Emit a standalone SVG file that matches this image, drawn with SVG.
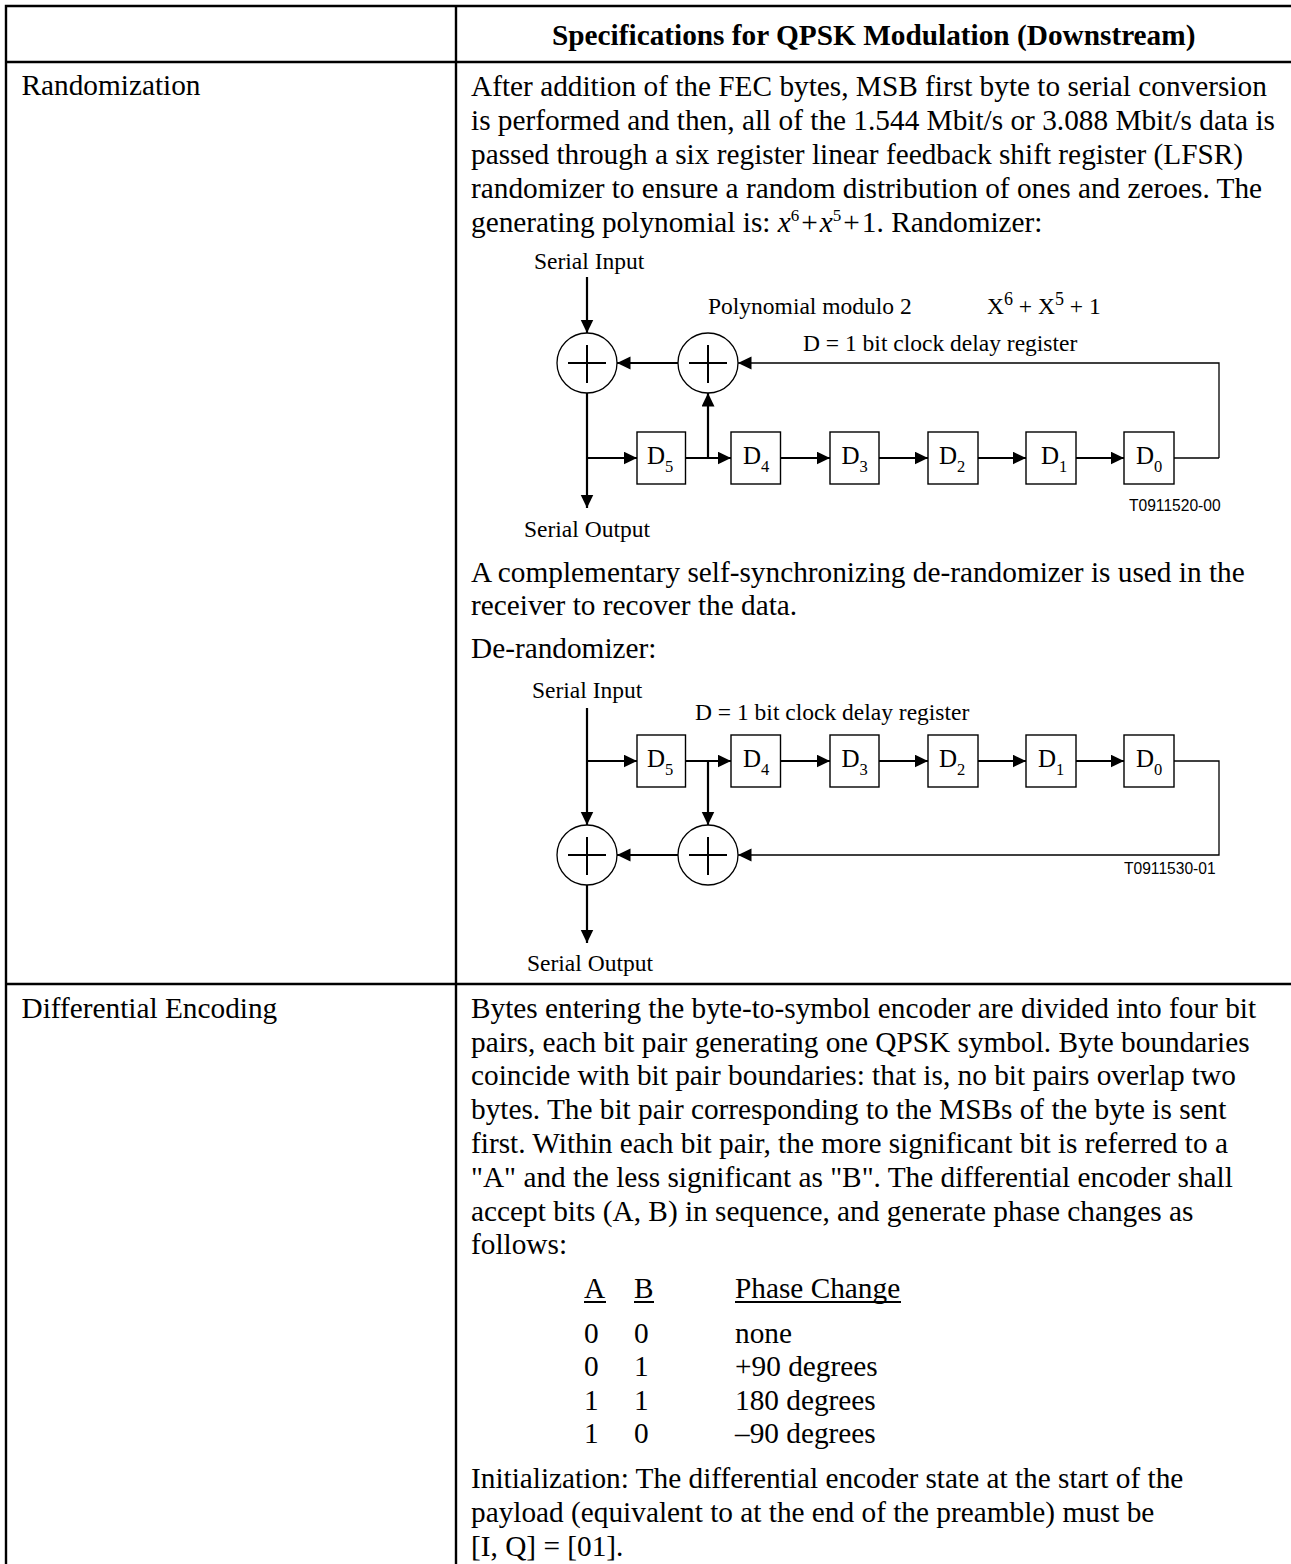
<svg xmlns="http://www.w3.org/2000/svg" width="1291" height="1564" viewBox="0 0 1291 1564">
<style>
text{font-family:"Liberation Serif","Times New Roman",serif;fill:#000}
.b{font-size:29.3px}
.h{font-size:29.3px;font-weight:bold}
.d{font-size:23.5px}
.s{font-family:"Liberation Sans",Arial,sans-serif;font-size:15.6px}
.g{font-size:25px}
.sub{font-size:16.5px}
.sup{font-size:17px}
.sx{font-size:18px}
.t{fill:none;stroke:#000;stroke-width:2.4}
.l{fill:none;stroke:#000;stroke-width:2}
.n{fill:none;stroke:#000;stroke-width:1.3}
.a{fill:none;stroke:#000;stroke-width:2.2;marker-end:url(#ar)}
.a2{fill:none;stroke:#000;stroke-width:1.3;marker-end:url(#ar)}
.box{fill:#fff;stroke:#000;stroke-width:1.4}
.cir{fill:#fff;stroke:#000;stroke-width:1.3}
</style>
<defs>
<marker id="ar" markerUnits="userSpaceOnUse" markerWidth="15" markerHeight="14" refX="13.5" refY="6.5" orient="auto"><path d="M0 0L13.5 6.5L0 13Z" fill="#000"/></marker>
</defs>
<rect width="1291" height="1564" fill="#fff"/>
<g id="table">
<path class="t" d="M6 1564V6H1291M456 6V1564M6 62H1291M6 984H1291"/>
</g>
<g id="text">
<text class="h" x="552" y="44.5">Specifications for QPSK Modulation (Downstream)</text>
<text class="b" x="21.5" y="95">Randomization</text>
<text class="b" x="21.5" y="1018">Differential Encoding</text>
<text class="b" x="471" y="95.5">After addition of the FEC bytes, MSB first byte to serial conversion</text>
<text class="b" x="471" y="129.5">is performed and then, all of the 1.544 Mbit/s or 3.088 Mbit/s data is</text>
<text class="b" x="471" y="163.5">passed through a six register linear feedback shift register (LFSR)</text>
<text class="b" x="471" y="197.5">randomizer to ensure a random distribution of ones and zeroes. The</text>
<text class="b" x="471" y="231.5">generating polynomial is: <tspan font-style="italic">x</tspan><tspan class="sup" dy="-11">6</tspan><tspan dy="11" dx="2">+</tspan><tspan dx="2" font-style="italic">x</tspan><tspan class="sup" dy="-11">5</tspan><tspan dy="11" dx="2">+</tspan><tspan dx="2">1. Randomizer:</tspan></text>
<text class="b" x="471" y="582">A complementary self-synchronizing de-randomizer is used in the</text>
<text class="b" x="471" y="615">receiver to recover the data.</text>
<text class="b" x="471" y="658">De-randomizer:</text>
<text class="b" x="471" y="1018">Bytes entering the byte-to-symbol encoder are divided into four bit</text>
<text class="b" x="471" y="1052">pairs, each bit pair generating one QPSK symbol. Byte boundaries</text>
<text class="b" x="471" y="1085">coincide with bit pair boundaries: that is, no bit pairs overlap two</text>
<text class="b" x="471" y="1119">bytes. The bit pair corresponding to the MSBs of the byte is sent</text>
<text class="b" x="471" y="1153">first. Within each bit pair, the more significant bit is referred to a</text>
<text class="b" x="471" y="1187">"A" and the less significant as "B". The differential encoder shall</text>
<text class="b" x="471" y="1221">accept bits (A, B) in sequence, and generate phase changes as</text>
<text class="b" x="471" y="1254">follows:</text>
<text class="b" x="584" y="1297.5">A</text>
<text class="b" x="634" y="1297.5">B</text>
<text class="b" x="735" y="1297.5">Phase Change</text>
<path class="l" d="M584 1302H606M634 1302H654M735 1302H901"/>
<text class="b" x="584" y="1343">0</text><text class="b" x="634" y="1343">0</text><text class="b" x="735" y="1343">none</text>
<text class="b" x="584" y="1376">0</text><text class="b" x="634" y="1376">1</text><text class="b" x="735" y="1376">+90 degrees</text>
<text class="b" x="584" y="1410">1</text><text class="b" x="634" y="1410">1</text><text class="b" x="735" y="1410">180 degrees</text>
<text class="b" x="584" y="1443">1</text><text class="b" x="634" y="1443">0</text><text class="b" x="735" y="1443">–90 degrees</text>
<text class="b" x="471" y="1488">Initialization: The differential encoder state at the start of the</text>
<text class="b" x="471" y="1522">payload (equivalent to at the end of the preamble) must be</text>
<text class="b" x="471" y="1556">[I, Q] = [01].</text>
</g>
<g id="randomizer-connectors">
<path class="a" d="M587 277V333"/>
<path class="a" d="M678 363H617"/>
<path class="a2" d="M1219 458V363H738"/>
<path class="a" d="M587 393V508"/>
<path class="a" d="M587 458H637"/>
<path class="a" d="M685 458H731"/>
<path class="a" d="M708 458V393"/>
<path class="a" d="M780 458H830"/>
<path class="a" d="M879 458H928"/>
<path class="a" d="M977 458H1026"/>
<path class="a" d="M1076 458H1124"/>
<path class="n" d="M1174 458H1219"/>
</g>
<g id="r-sum1"><circle class="cir" cx="587" cy="363" r="30"/><path class="l" d="M568 363H606M587 345V383"/></g>
<g id="r-sum2"><circle class="cir" cx="708" cy="363" r="30"/><path class="l" d="M689 363H727M708 345V383"/></g>
<g id="r-d5"><rect class="box" x="637" y="432" width="48.5" height="52"/><text class="g" x="647" y="463.5">D<tspan class="sub" dy="8">5</tspan></text></g>
<g id="r-d4"><rect class="box" x="731" y="432" width="49.5" height="52"/><text class="g" x="743" y="463.5">D<tspan class="sub" dy="8">4</tspan></text></g>
<g id="r-d3"><rect class="box" x="830" y="432" width="49" height="52"/><text class="g" x="841.5" y="463.5">D<tspan class="sub" dy="8">3</tspan></text></g>
<g id="r-d2"><rect class="box" x="928" y="432" width="50" height="52"/><text class="g" x="939" y="463.5">D<tspan class="sub" dy="8">2</tspan></text></g>
<g id="r-d1"><rect class="box" x="1026" y="432" width="50" height="52"/><text class="g" x="1041" y="463.5">D<tspan class="sub" dy="8">1</tspan></text></g>
<g id="r-d0"><rect class="box" x="1124" y="432" width="50" height="52"/><text class="g" x="1136" y="463.5">D<tspan class="sub" dy="8">0</tspan></text></g>
<g id="r-labels">
<text class="d" x="534" y="269">Serial Input</text>
<text class="d" x="708" y="314">Polynomial modulo 2</text>
<text class="d" x="987" y="314">X<tspan class="sx" dy="-9">6</tspan><tspan dy="9"> + X</tspan><tspan class="sx" dy="-9">5</tspan><tspan dy="9"> + 1</tspan></text>
<text class="d" x="803" y="351">D = 1 bit clock delay register</text>
<text class="s" x="1129" y="511">T0911520-00</text>
<text class="d" x="524" y="537">Serial Output</text>
</g>
<g id="derandomizer-connectors">
<path class="a" d="M587 708V825"/>
<path class="a" d="M587 761H637"/>
<path class="a" d="M685 761H731"/>
<path class="a" d="M708 761V825"/>
<path class="a" d="M780 761H830"/>
<path class="a" d="M879 761H928"/>
<path class="a" d="M977 761H1026"/>
<path class="a" d="M1076 761H1124"/>
<path class="a2" d="M1174 761H1219V855H738"/>
<path class="a" d="M678 855H617"/>
<path class="a" d="M587 885V943"/>
</g>
<g id="d-sum1"><circle class="cir" cx="587" cy="855" r="30"/><path class="l" d="M568 855H606M587 837V875"/></g>
<g id="d-sum2"><circle class="cir" cx="708" cy="855" r="30"/><path class="l" d="M689 855H727M708 837V875"/></g>
<g id="d-d5"><rect class="box" x="637" y="735" width="48.5" height="52"/><text class="g" x="647" y="766.5">D<tspan class="sub" dy="8">5</tspan></text></g>
<g id="d-d4"><rect class="box" x="731" y="735" width="49.5" height="52"/><text class="g" x="743" y="766.5">D<tspan class="sub" dy="8">4</tspan></text></g>
<g id="d-d3"><rect class="box" x="830" y="735" width="49" height="52"/><text class="g" x="841.5" y="766.5">D<tspan class="sub" dy="8">3</tspan></text></g>
<g id="d-d2"><rect class="box" x="928" y="735" width="50" height="52"/><text class="g" x="939" y="766.5">D<tspan class="sub" dy="8">2</tspan></text></g>
<g id="d-d1"><rect class="box" x="1026" y="735" width="50" height="52"/><text class="g" x="1038" y="766.5">D<tspan class="sub" dy="8">1</tspan></text></g>
<g id="d-d0"><rect class="box" x="1124" y="735" width="50" height="52"/><text class="g" x="1136" y="766.5">D<tspan class="sub" dy="8">0</tspan></text></g>
<g id="d-labels">
<text class="d" x="532" y="698">Serial Input</text>
<text class="d" x="695" y="720">D = 1 bit clock delay register</text>
<text class="s" x="1124" y="874">T0911530-01</text>
<text class="d" x="527" y="971">Serial Output</text>
</g>
</svg>
